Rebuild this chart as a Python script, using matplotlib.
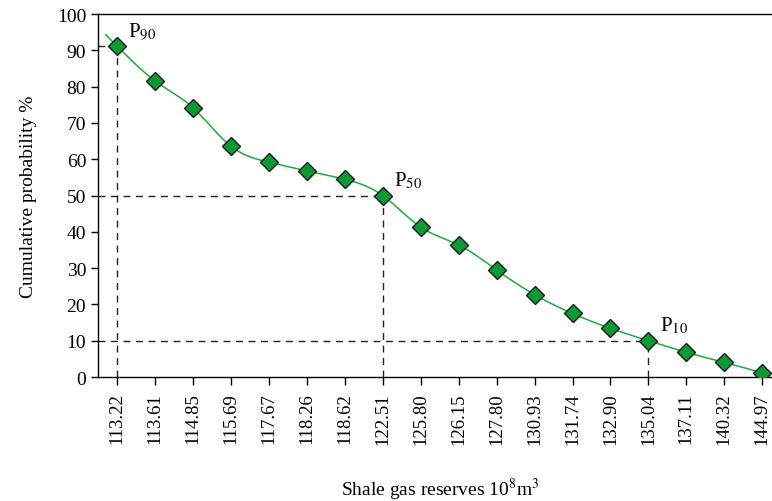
import matplotlib.pyplot as plt
import numpy as np

# Shale gas reserve levels (10^8 m^3) and cumulative probability (%)
reserves = ['113.22', '113.61', '114.85', '115.69', '117.67', '118.26', '118.62', '122.51',
            '125.80', '126.15', '127.80', '130.93', '131.74', '132.90', '135.04', '137.11',
            '140.32', '144.97']
cum_prob = [91.2, 81.6, 74.2, 63.6, 59.2, 56.8, 54.5, 50.0, 41.3, 36.4, 29.5, 22.7, 17.5,
            13.4, 10.0, 6.8, 4.0, 1.2]

# Percentile markers: (label, index into reserves)
percentiles = [('90', 0), ('50', 7), ('10', 14)]


def natural_spline(x, y, xs):
    """Natural cubic spline through (x, y), evaluated at xs (extrapolates at the ends)."""
    x = np.asarray(x, float)
    y = np.asarray(y, float)
    n = len(x)
    h = np.diff(x)
    A = np.zeros((n, n))
    b = np.zeros(n)
    A[0, 0] = A[-1, -1] = 1.0
    for i in range(1, n - 1):
        A[i, i - 1] = h[i - 1]
        A[i, i] = 2 * (h[i - 1] + h[i])
        A[i, i + 1] = h[i]
        b[i] = 6 * ((y[i + 1] - y[i]) / h[i] - (y[i] - y[i - 1]) / h[i - 1])
    m = np.linalg.solve(A, b)
    idx = np.clip(np.searchsorted(x, xs) - 1, 0, n - 2)
    x0, x1 = x[idx], x[idx + 1]
    hh = x1 - x0
    t0, t1 = x1 - xs, xs - x0
    return (m[idx] * t0 ** 3 / (6 * hh) + m[idx + 1] * t1 ** 3 / (6 * hh)
            + (y[idx] / hh - m[idx] * hh / 6) * t0 + (y[idx + 1] / hh - m[idx + 1] * hh / 6) * t1)


plt.rcParams['font.family'] = ['Liberation Serif', 'DejaVu Serif']
plt.rcParams['mathtext.fontset'] = 'stix'

fig = plt.figure(figsize=(7.72, 5.02), dpi=100)
ax = fig.add_axes([0.127, 0.247, 0.885, 0.723])

xpos = np.arange(len(reserves))
xs = np.linspace(-0.3, xpos[-1], 400)
ax.plot(xs, natural_spline(xpos, cum_prob, xs), color='#1dab3b', lw=1.1, zorder=2)

# Dashed guide lines for P90 / P50 / P10
for name, i in percentiles:
    ax.plot([-0.5, i], [cum_prob[i], cum_prob[i]], ls=(0, (5, 4)), color='#222222', lw=1.0, zorder=1)
    ax.plot([i, i], [0, cum_prob[i]], ls=(0, (5, 4)), color='#222222', lw=1.0, zorder=1)
    ax.text(i + 0.3, cum_prob[i] + 1.5, r'P$_{%s}$' % name, fontsize=15, ha='left', va='bottom')

ax.plot(xpos, cum_prob, ls='none', marker='D', ms=9.5, mfc='#0c9a34', mec='#1a1a1a',
        mew=1.0, zorder=3)

ax.set_xlim(-0.5, len(reserves) - 0.5)
ax.set_ylim(0, 100)
ax.set_xticks(xpos)
ax.set_xticklabels(reserves, rotation=90, fontsize=13.5)
ax.set_yticks(np.arange(0, 101, 10))
ax.tick_params(axis='y', labelsize=14, length=5, width=1)
ax.tick_params(axis='x', length=6, width=1, pad=5)
ax.spines['right'].set_visible(False)
for s in ['left', 'bottom', 'top']:
    ax.spines[s].set_linewidth(1.0)

ax.set_ylabel('Cumulative probability %', fontsize=14, labelpad=14)
fig.text(0.57, 0.024, r'Shale gas reserves 10$^{8}$m$^{3}$', fontsize=14,
         ha='center', va='center')

fig.savefig('out.png', dpi=100)
